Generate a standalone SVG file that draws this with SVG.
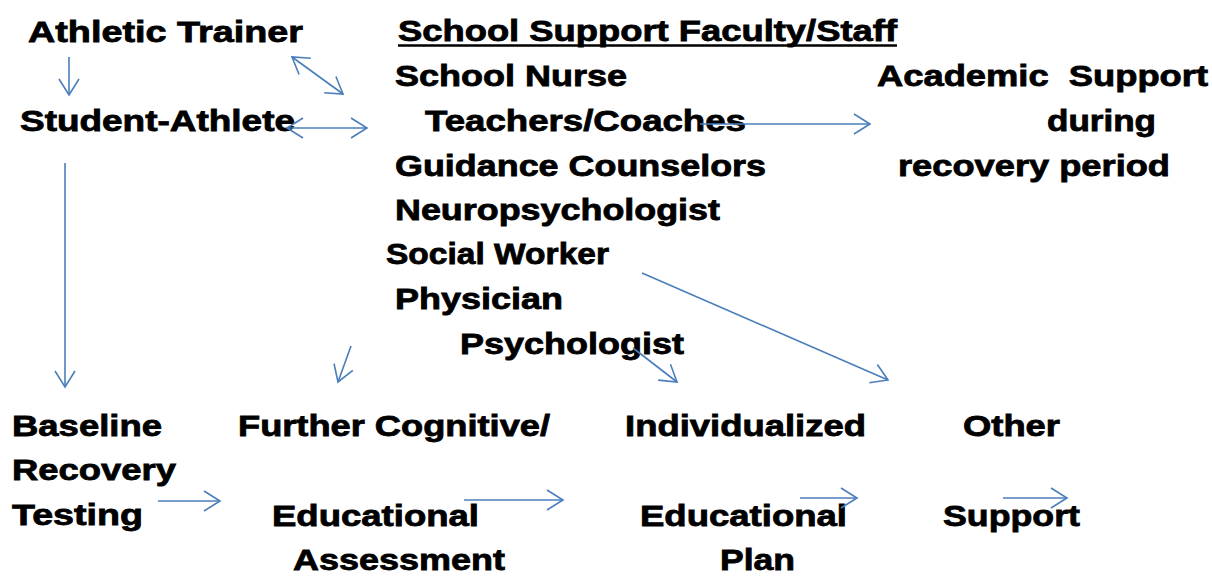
<svg xmlns="http://www.w3.org/2000/svg" width="1212" height="576" viewBox="0 0 1212 576">
<defs>
<style>
text{font-family:"Liberation Sans",Arial,sans-serif;font-weight:bold;font-size:30px;fill:#000;stroke:#000;stroke-width:0.8px}
.c{fill:none;stroke:#4A7EBB;stroke-width:1.6}
</style>
<marker id="ah" markerUnits="userSpaceOnUse" markerWidth="40" markerHeight="40" viewBox="-20 -20 40 40" refX="0" refY="0" orient="auto-start-reverse">
<path d="M-16,-10 L0,0 L-16,10" fill="none" stroke="#4A7EBB" stroke-width="1.6"/>
</marker>
</defs>
<rect width="1212" height="576" fill="#fff"/>
<g id="athletic-trainer"><text x="28" y="42" textLength="275" lengthAdjust="spacingAndGlyphs">Athletic Trainer</text></g>
<g id="student-athlete"><text x="20" y="131" textLength="275" lengthAdjust="spacingAndGlyphs">Student-Athlete</text></g>
<g id="school-support">
<text x="398" y="41" textLength="499" lengthAdjust="spacingAndGlyphs">School Support Faculty/Staff</text>
<line x1="398" y1="45.5" x2="897" y2="45.5" stroke="#000" stroke-width="2.5"/>
<text x="395" y="86" textLength="232" lengthAdjust="spacingAndGlyphs">School Nurse</text>
<text x="425" y="131" textLength="321" lengthAdjust="spacingAndGlyphs">Teachers/Coaches</text>
<text x="395" y="176" textLength="371" lengthAdjust="spacingAndGlyphs">Guidance Counselors</text>
<text x="395" y="220" textLength="325" lengthAdjust="spacingAndGlyphs">Neuropsychologist</text>
<text x="386" y="264" textLength="223" lengthAdjust="spacingAndGlyphs">Social Worker</text>
<text x="395" y="309" textLength="168" lengthAdjust="spacingAndGlyphs">Physician</text>
<text x="460" y="354" textLength="224" lengthAdjust="spacingAndGlyphs">Psychologist</text>
</g>
<g id="academic-support">
<text x="877" y="86" textLength="331" lengthAdjust="spacingAndGlyphs" xml:space="preserve">Academic  Support</text>
<text x="1047" y="131" textLength="109" lengthAdjust="spacingAndGlyphs">during</text>
<text x="898" y="176" textLength="272" lengthAdjust="spacingAndGlyphs">recovery period</text>
</g>
<g id="baseline-testing">
<text x="12" y="436" textLength="150" lengthAdjust="spacingAndGlyphs">Baseline</text>
<text x="12" y="480" textLength="164" lengthAdjust="spacingAndGlyphs">Recovery</text>
<text x="12" y="525" textLength="131" lengthAdjust="spacingAndGlyphs">Testing</text>
</g>
<g id="further-assessment">
<text x="238" y="436" textLength="312" lengthAdjust="spacingAndGlyphs">Further Cognitive/</text>
<text x="272" y="526" textLength="207" lengthAdjust="spacingAndGlyphs">Educational</text>
<text x="293" y="570" textLength="212" lengthAdjust="spacingAndGlyphs">Assessment</text>
</g>
<g id="individualized-plan">
<text x="625" y="436" textLength="241" lengthAdjust="spacingAndGlyphs">Individualized</text>
<text x="640" y="526" textLength="207" lengthAdjust="spacingAndGlyphs">Educational</text>
<text x="720" y="570" textLength="75" lengthAdjust="spacingAndGlyphs">Plan</text>
</g>
<g id="other-support">
<text x="963" y="436" textLength="97" lengthAdjust="spacingAndGlyphs">Other</text>
<text x="943" y="526" textLength="137" lengthAdjust="spacingAndGlyphs">Support</text>
</g>
<g id="connectors">
<line class="c" x1="69" y1="57" x2="69" y2="95" marker-end="url(#ah)"/>
<line class="c" x1="292" y1="57" x2="343" y2="94" marker-start="url(#ah)" marker-end="url(#ah)"/>
<line class="c" x1="287" y1="128" x2="367" y2="128" marker-start="url(#ah)" marker-end="url(#ah)"/>
<line class="c" x1="700" y1="124" x2="870" y2="124" marker-end="url(#ah)"/>
<line class="c" x1="65" y1="163" x2="65" y2="387" marker-end="url(#ah)"/>
<line class="c" x1="351" y1="346" x2="338" y2="382" marker-end="url(#ah)"/>
<line class="c" x1="633" y1="348" x2="677" y2="382" marker-end="url(#ah)"/>
<line class="c" x1="642" y1="273" x2="888" y2="380" marker-end="url(#ah)"/>
<line class="c" x1="158" y1="501" x2="220" y2="501" marker-end="url(#ah)"/>
<line class="c" x1="464" y1="500" x2="563" y2="500" marker-end="url(#ah)"/>
<line class="c" x1="800" y1="498" x2="857" y2="498" marker-end="url(#ah)"/>
<line class="c" x1="1003" y1="498" x2="1067" y2="498" marker-end="url(#ah)"/>
</g>
</svg>
